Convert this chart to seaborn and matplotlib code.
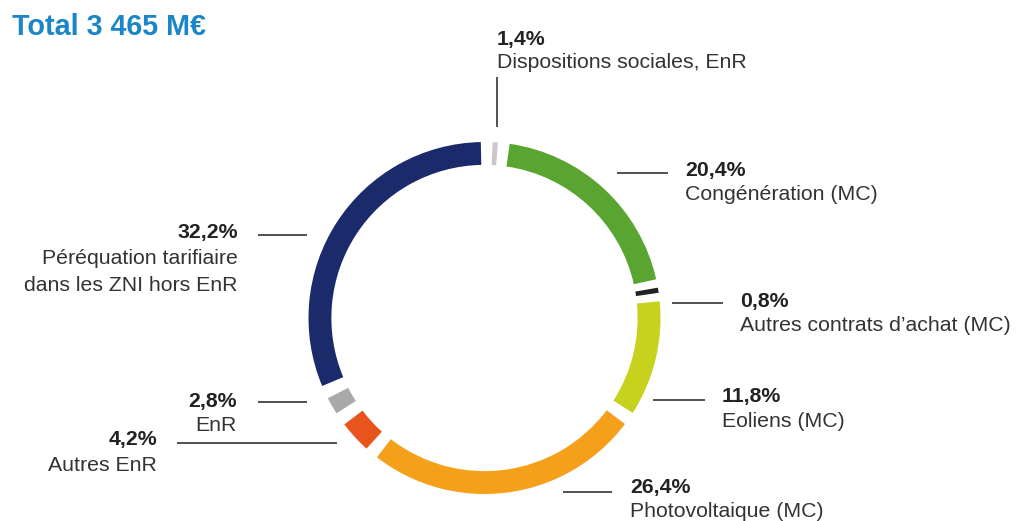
import matplotlib
matplotlib.use("Agg")
import matplotlib.pyplot as plt
import seaborn as sns

# ---- data ----
categories = [
    "Dispositions sociales, EnR",
    "Congénération (MC)",
    "Autres contrats d’achat (MC)",
    "Eoliens (MC)",
    "Photovoltaique (MC)",
    "Autres EnR",
    "EnR",
    "Péréquation tarifiaire\ndans les ZNI hors EnR",
]
shares = [1.4, 20.4, 0.8, 11.8, 26.4, 4.2, 2.8, 32.2]
share_labels = ["1,4%", "20,4%", "0,8%", "11,8%", "26,4%", "4,2%", "2,8%", "32,2%"]
total_label = "Total 3 465 M€"

colors = ["#c9c9c9", "#5aa532", "#222222", "#c6d21c",
          "#f5a01a", "#e8541c", "#a9a9a9", "#1b2a6b"]

sns.set_theme(style="white")
plt.rcParams["font.family"] = ["Liberation Sans", "DejaVu Sans"]

W, H = 1018, 521
fig = plt.figure(figsize=(W / 100, H / 100), dpi=100)
ax = fig.add_axes([0, 0, 1, 1])

CX, CY, R = 484.5, 318.0, 176.0   # pie centre / radius in pixels


def px(x, y):
    return (x - CX) / R, (CY - y) / R


wedges, _ = ax.pie(shares, colors=colors, startangle=89, counterclock=False,
                   radius=1.0, wedgeprops=dict(width=0.13, linewidth=0))

gap = 2.2      # degrees removed on each side
minspan = 1.7
for w in wedges:
    t1, t2 = w.theta1, w.theta2
    span = t2 - t1
    vis = max(span - 2 * gap, minspan)
    mid = (t1 + t2) / 2
    w.set_theta1(mid - vis / 2)
    w.set_theta2(mid + vis / 2)

ax.set_xlim(px(0, 0)[0], px(W, 0)[0])
ax.set_ylim(px(0, H)[1], px(0, 0)[1])
ax.set_aspect("equal")
ax.axis("off")

tc = "#222222"
fs = 15.3

# label layout: (x, pct baseline, first name baseline, ha)
layout = [
    (497, 45, 68, "left"),
    (685, 176, 200, "left"),
    (740, 307, 331, "left"),
    (722, 402, 427, "left"),
    (630, 493, 517, "left"),
    (157, 445, 471, "right"),
    (237, 407, 431, "right"),
    (238, 238, 264, "right"),
]
for (x, yp, yn, ha), pct, name in zip(layout, share_labels, categories):
    ax.text(*px(x, yp), pct, fontsize=fs, fontweight="bold", color=tc,
            ha=ha, va="baseline")
    for i, line in enumerate(name.split("\n")):
        ax.text(*px(x, yn + 27 * i), line, fontsize=fs, color="#333333",
                ha=ha, va="baseline")

# leader lines
leaders = [
    ((497, 77), (497, 127)),
    ((617, 173), (668, 173)),
    ((672, 303), (723, 303)),
    ((653, 400), (705, 400)),
    ((563, 492), (612, 492)),
    ((258, 235), (307, 235)),
    ((258, 402), (307, 402)),
    ((177, 443), (337, 443)),
]
for (x1, y1), (x2, y2) in leaders:
    a, b = px(x1, y1), px(x2, y2)
    ax.plot([a[0], b[0]], [a[1], b[1]], color="#222222", lw=1.1,
            solid_capstyle="butt")

ax.text(*px(12, 35), total_label, fontsize=20.7, fontweight="bold",
        color="#1a86c7", ha="left", va="baseline")

fig.savefig("out.png", dpi=100)
